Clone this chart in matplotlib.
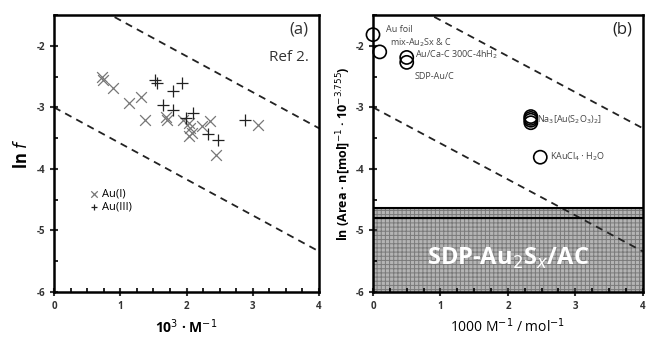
import matplotlib
matplotlib.use('Agg')
import matplotlib.pyplot as plt
from matplotlib.ticker import MultipleLocator

plt.rcParams['font.family'] = ['Open Sans', 'DejaVu Sans']
plt.rcParams['hatch.linewidth'] = 0.7

# (a) Ref 2 data
au1_x = [0.72, 0.74, 0.89, 1.13, 1.32, 1.37, 1.69, 1.71, 1.95, 2.03, 2.05, 2.04, 2.08, 2.23, 2.35, 2.45, 3.08]
au1_y = [-2.50, -2.55, -2.69, -2.93, -2.84, -3.20, -3.15, -3.20, -3.20, -3.26, -3.34, -3.47, -3.42, -3.31, -3.23, -3.77, -3.29]
au3_x = [1.53, 1.55, 1.93, 1.80, 1.64, 1.79, 2.10, 1.99, 2.33, 2.48, 2.88]
au3_y = [-2.55, -2.60, -2.61, -2.73, -2.97, -3.04, -3.09, -3.17, -3.43, -3.53, -3.20]

# (b) samples
smp_x = [0.0, 0.1, 0.5, 0.5, 2.34, 2.34, 2.34, 2.34, 2.48]
smp_y = [-1.82, -2.10, -2.19, -2.27, -3.15, -3.18, -3.21, -3.25, -3.81]
lbl_text = ['Au foil', 'mix-Au$_2$Sx & C', 'Au/Ca-C 300C-4hH$_2$', 'SDP-Au/C',
            'Na$_3$[Au(S$_2$O$_3$)$_2$]', 'KAuCl$_4\\cdot$H$_2$O']
lbl_x = [0.2, 0.25, 0.62, 0.62, 2.43, 2.62]
lbl_y = [-1.73, -1.95, -2.15, -2.5, -3.2, -3.81]

# guide lines
line_x = [0, 4]
slope = -0.585
upper_b = -1.0
lower_b = -3.0
band_top = -4.64
band_line = -4.79

fig = plt.figure(figsize=(6.47, 3.40), dpi=100)
ax1 = fig.add_axes([0.0835, 0.141, 0.4096, 0.815])
ax2 = fig.add_axes([0.5765, 0.141, 0.417, 0.815])

for ax in (ax1, ax2):
    ax.set_xlim(0, 4)
    ax.set_ylim(-6, -1.5)
    ax.xaxis.set_major_locator(MultipleLocator(1))
    ax.xaxis.set_minor_locator(MultipleLocator(0.25))
    ax.yaxis.set_major_locator(MultipleLocator(1))
    ax.yaxis.set_minor_locator(MultipleLocator(0.5))
    ax.tick_params(which='major', direction='inout', length=6, width=1.5, labelsize=7, colors='#333333')
    ax.tick_params(which='minor', direction='in', length=3, width=1.2)
    ax.set_xticks([0, 1, 2, 3, 4])
    ax.set_xticklabels(['0', '1', '2', '3', '4'], fontweight='bold')
    ax.set_yticks([-6, -5, -4, -3, -2])
    ax.set_yticklabels(['-6', '-5', '-4', '-3', '-2'], fontweight='bold')
    for s in ax.spines.values():
        s.set_linewidth(1.8)
    for b in (upper_b, lower_b):
        ax.plot(line_x, [b + slope * x for x in line_x], ls=(0, (4, 3)), color='#222222', lw=1.3)

ax1.scatter(au1_x, au1_y, marker='x', s=60, color='#777777', linewidths=0.9, label='Au(I)')
ax1.scatter(au3_x, au3_y, marker='+', s=70, color='#222222', linewidths=0.9, label='Au(III)')
ax1.legend(loc='upper left', bbox_to_anchor=(0.1, 0.41), frameon=False, fontsize=8,
           handlelength=0.6, handletextpad=0.4, labelspacing=0.2, markerscale=0.6)
ax1.text(0.96, 0.975, '(a)', transform=ax1.transAxes, ha='right', va='top', fontsize=12, color='#333333')
ax1.text(0.96, 0.875, 'Ref 2.', transform=ax1.transAxes, ha='right', va='top', fontsize=11, color='#333333')
ax1.set_xlabel('10$^3$ · M$^{-1}$', fontsize=10, fontweight='bold')
ax1.set_ylabel('ln $\\mathbf{\\mathit{f}}$', fontsize=12, fontweight='bold', labelpad=4)

ax2.fill_between(line_x, -6, band_top, facecolor='#b4b4b4', edgecolor='#7a7a7a', hatch='++++', lw=0, zorder=0)
ax2.axhline(band_top, color='black', lw=1.5)
ax2.axhline(band_line, color='black', lw=1.5)
ax2.text(2.0, -5.45, 'SDP-Au$_2$S$_x$/AC', ha='center', va='center', fontsize=17,
         fontweight='bold', color='white')
ax2.scatter(smp_x, smp_y, s=90, facecolors='none', edgecolors='black', linewidths=1.2, clip_on=False, zorder=3)
for t, x, y in zip(lbl_text, lbl_x, lbl_y):
    ax2.text(x, y, t, fontsize=6.5, color='#444444', va='center', ha='left')
ax2.text(0.96, 0.975, '(b)', transform=ax2.transAxes, ha='right', va='top', fontsize=12, color='#222222')
ax2.set_xlabel('1000 M$^{-1}$ / mol$^{-1}$', fontsize=10)
ax2.set_ylabel('ln (Area · n[mol]$^{-1}$ · 10$^{-3.755}$)', fontsize=9, fontweight='bold', labelpad=2)

fig.savefig('out.png', dpi=100)
